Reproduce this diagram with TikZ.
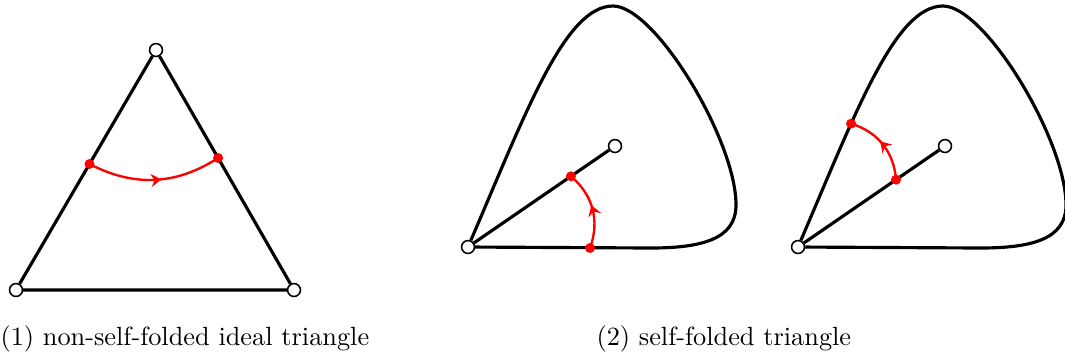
\documentclass[tikz,border=0pt]{standalone}
\usetikzlibrary{arrows.meta,decorations.markings,calc}

\begin{document}
\begin{tikzpicture}[
		x = 0.38pt, y = -0.38pt,
		vtx/.style  = {circle, draw=black, fill=white, line width=0.6pt, inner sep=0pt, minimum size=4.9pt},
		rd/.style   = {circle, fill=red, inner sep=0pt, minimum size=3.8pt},
		side/.style = {line width=1.2pt, line join=round},
		flow/.style = {red, line width=0.9pt, postaction={decorate},
			decoration={markings, mark=at position 0.55 with {\arrow{Stealth[length=4pt, width=5pt, inset=1.4pt]}}}},
		captxt/.style = {inner sep=0pt, anchor=base west}
		]
		\useasboundingbox (0,0) rectangle (1065,356);
		
		% (1) ideal triangle
		\node[vtx] (t1)  at (156, 50) {};
		\node[vtx] (bl1) at ( 16,290) {};
		\node[vtx] (br1) at (294,290) {};
		\draw[side] (t1)--(bl1)  (bl1)--(br1)  (br1)--(t1);
		\coordinate (a1) at ($(t1)!0.475!(bl1)$);
		\coordinate (b1) at ($(t1)!0.45!(br1)$);
		\draw[flow] (a1) to[bend right=30] (b1);
		\node[rd] (ra1) at (a1) {};
		\node[rd] (rb1) at (b1) {};
		
		% (2) self-folded triangles
		\foreach \dx/\k in {0/2, 330/3} {
			\begin{scope}[shift={(\dx,0)}]
				\node[vtx] (c\k) at (468,247) {};
				\node[vtx] (p\k) at (615,146) {};
				\draw[side] (c\k) .. controls (526,112) and (565,6) .. (613,6) coordinate[pos=0.33] (f\k)
					.. controls (655,6) and (736,140) .. (736,205)
					.. controls (736,240) and (700,248) .. (650,248) -- (c\k);
				\draw[side] (c\k)--(p\k);
			\end{scope}
		}
		
		\coordinate (d2) at (590,248);
		\coordinate (e2) at ($(c2)!0.70!(p2)$);
		\draw[flow] (d2) to[bend right=35] (e2);
		\node[rd] (rd2) at (d2) {};
		\node[rd] (re2) at (e2) {};
		
		\coordinate (e3) at ($(c3)!0.667!(p3)$);
		\draw[flow] (e3) to[bend right=34] (f3);
		\node[rd] (re3) at (e3) {};
		\node[rd] (rf3) at (f3) {};
		
		\node[captxt] (cap1) at (0,345)   {(1) non-self-folded ideal triangle};
		\node[captxt] (cap2) at (596,345) {(2) self-folded triangle};
	\end{tikzpicture}
\end{document}
